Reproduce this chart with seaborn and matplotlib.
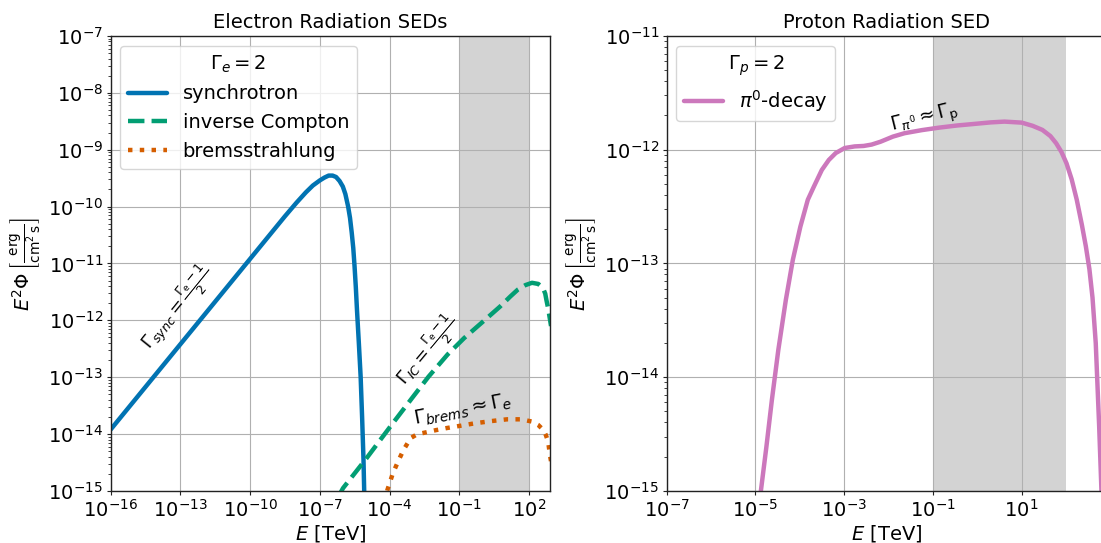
import numpy as np
import pandas as pd
import matplotlib
matplotlib.use("Agg")
import matplotlib.pyplot as plt
import seaborn as sns

# Spectra are listed as log10 values: E in TeV, E^2 Phi in erg cm^-2 s^-1.
# ---- electron SED components ----
sync_logE = [-16.0, -14.0, -12.0, -10.0, -9.0, -8.5, -8.0, -7.6, -7.3, -7.0,
             -6.8, -6.62, -6.45, -6.3, -6.15, -6.009, -5.9, -5.781, -5.7,
             -5.626, -5.56, -5.505, -5.45, -5.40, -5.32, -5.243, -5.18,
             -5.12, -5.09, -5.03]
sync_logF = [-13.92, -12.92, -11.92, -10.92, -10.42, -10.17, -9.93, -9.75,
             -9.63, -9.54, -9.49, -9.455, -9.455, -9.48, -9.55, -9.648,
             -9.78, -10.0, -10.2, -10.46, -10.73, -11.05, -11.42, -11.82,
             -12.4, -12.99, -13.7, -14.45, -15.0, -16.0]

ic_logE = [-6.2, -6.0, -5.0, -3.86, -3.0, -2.32, -1.5, -0.785, 0.0, 0.75,
           1.2, 1.52, 1.85, 2.13, 2.4, 2.6, 2.7, 2.75, 2.82, 2.87, 2.95]
ic_logF = [-15.1, -14.95, -14.43, -13.81, -13.35, -12.99, -12.6, -12.31,
           -12.03, -11.76, -11.58, -11.46, -11.38, -11.34, -11.36, -11.43,
           -11.53, -11.64, -11.78, -11.90, -12.1]

brems_logE = [-4.3, -4.09, -3.857, -3.62, -3.40, -3.09, -2.8, -2.55, -2.0,
              -1.555, -0.9, -0.325, 0.4, 1.06, 1.67, 2.13, 2.4, 2.6, 2.72,
              2.826, 2.9, 3.0]
brems_logF = [-15.4, -14.98, -14.69, -14.47, -14.28, -14.07, -14.0, -13.98,
              -13.93, -13.895, -13.85, -13.81, -13.77, -13.74, -13.74, -13.78,
              -13.84, -13.92, -14.01, -14.13, -14.36, -14.6]

# ---- proton SED component ----
pi0_logE = [-4.95, -4.876, -4.752, -4.628, -4.482, -4.313, -4.155, -3.986,
            -3.818, -3.682, -3.502, -3.344, -3.187, -2.985, -2.76, -2.558,
            -2.38, -2.18, -1.9, -1.637, -1.25, -0.86, -0.45, -0.083, 0.3,
            0.615, 1.005, 1.25, 1.47, 1.65, 1.78, 1.9, 2.014, 2.13, 2.245,
            2.36, 2.45, 2.53, 2.6, 2.673, 2.75, 2.82]
pi0_logF = [-15.5, -15.0, -14.613, -14.20, -13.758, -13.32, -12.967, -12.677,
            -12.44, -12.325, -12.178, -12.09, -12.029, -11.985, -11.971,
            -11.967, -11.955, -11.93, -11.885, -11.855, -11.828, -11.806,
            -11.787, -11.774, -11.76, -11.753, -11.762, -11.79, -11.826,
            -11.88, -11.943, -12.02, -12.12, -12.26, -12.44, -12.66, -12.85,
            -13.05, -13.3, -13.70, -14.43, -15.2]

# sensitivity band of the instrument [TeV]
band = (0.1, 100)

left_xticks = [1e-16, 1e-13, 1e-10, 1e-7, 1e-4, 1e-1, 1e2]
right_xticks = [1e-7, 1e-5, 1e-3, 1e-1, 1e1]

sns.set_style("ticks")
pal = sns.color_palette("colorblind")
c_sync, c_ic, c_brems, c_pi0 = pal[0], pal[2], pal[3], pal[4]

plt.rcParams.update({
    "font.family": ["DejaVu Sans"],
    "text.color": "black",
    "axes.labelcolor": "black",
    "axes.edgecolor": "#222222",
    "axes.linewidth": 1.0,
    "xtick.color": "#222222",
    "ytick.color": "#222222",
    "xtick.labelcolor": "black",
    "ytick.labelcolor": "black",
})


def spectrum(logE, logF, name):
    return pd.DataFrame({"E": np.power(10.0, logE),
                         "F": np.power(10.0, logF),
                         "proc": name})


fig = plt.figure(figsize=(11.01, 5.43), dpi=100)
ax1 = fig.add_axes([0.1005, 0.0958, 0.399, 0.838])
ax2 = fig.add_axes([0.6055, 0.0958, 0.399, 0.838])

ylabel = r"$E^2\Phi\,\left[\frac{\mathrm{erg}}{\mathrm{cm}^2\,\mathrm{s}}\right]$"
lw = 3.2

# electrons
elec = pd.concat([
    spectrum(sync_logE, sync_logF, "synchrotron"),
    spectrum(ic_logE, ic_logF, "inverse Compton"),
    spectrum(brems_logE, brems_logF, "bremsstrahlung"),
])
styles = {"synchrotron": (c_sync, "-"),
          "inverse Compton": (c_ic, "--"),
          "bremsstrahlung": (c_brems, ":")}
for name, grp in elec.groupby("proc", sort=False):
    col, ls = styles[name]
    sns.lineplot(data=grp, x="E", y="F", ax=ax1, color=col, lw=lw,
                 linestyle=ls, label=name, sort=False, estimator=None)

ax1.set_xscale("log")
ax1.set_yscale("log")
ax1.set_xlim(1e-16, 8e2)
ax1.set_ylim(1e-15, 1e-7)
ax1.set_xticks(left_xticks)
ax1.axvspan(*band, color="lightgray", lw=0, zorder=0.5)
ax1.set_title("Electron Radiation SEDs", fontsize=14)

ax1.text(10**-13.15, 10**-11.78,
         r"$\Gamma_{sync} = \frac{\Gamma_\mathrm{e} - 1}{2}$",
         rotation=51, ha="center", va="center", fontsize=13)
ax1.text(10**-2.35, 10**-12.52,
         r"$\Gamma_{IC} = \frac{\Gamma_\mathrm{e} - 1}{2}$",
         rotation=50, ha="center", va="center", fontsize=13)
ax1.text(10**-0.84, 10**-13.57, r"$\Gamma_{brems} \approx \Gamma_e$",
         rotation=11, ha="center", va="center", fontsize=14)
ax1.legend(title=r"$\Gamma_e = 2$", loc="upper left", fontsize=14,
           title_fontsize=14, frameon=True)

# protons
prot = spectrum(pi0_logE, pi0_logF, r"$\pi^0$-decay")
sns.lineplot(data=prot, x="E", y="F", ax=ax2, color=c_pi0, lw=lw,
             label=r"$\pi^0$-decay", sort=False, estimator=None)
ax2.set_xscale("log")
ax2.set_yscale("log")
ax2.set_xlim(1e-7, 8e2)
ax2.set_ylim(1e-15, 1e-11)
ax2.set_xticks(right_xticks)
ax2.axvspan(*band, color="lightgray", lw=0, zorder=0.5)
ax2.set_title("Proton Radiation SED", fontsize=14)
ax2.text(10**-1.18, 10**-11.73, r"$\Gamma_{\pi^0} \approx \Gamma_\mathrm{p}$",
         rotation=14, ha="center", va="center", fontsize=13.5)
ax2.legend(title=r"$\Gamma_p = 2$", loc="upper left", fontsize=14,
           title_fontsize=14, frameon=True)

for ax in (ax1, ax2):
    ax.set_xlabel(r"$E$ [TeV]", fontsize=14)
    ax.set_ylabel(ylabel, fontsize=14)
    ax.xaxis.set_label_coords(0.5, -0.070)
    ax.yaxis.set_label_coords(-0.156, 0.5)
    ax.xaxis.set_minor_locator(matplotlib.ticker.NullLocator())
    ax.grid(True, which="major", color="#b0b0b0", lw=0.8)
    ax.set_axisbelow("line")
    ax.tick_params(axis="both", which="major", labelsize=14, length=3,
                   pad=2.5)
    ax.tick_params(axis="y", which="minor", length=2)

fig.savefig("out.png", dpi=100)
